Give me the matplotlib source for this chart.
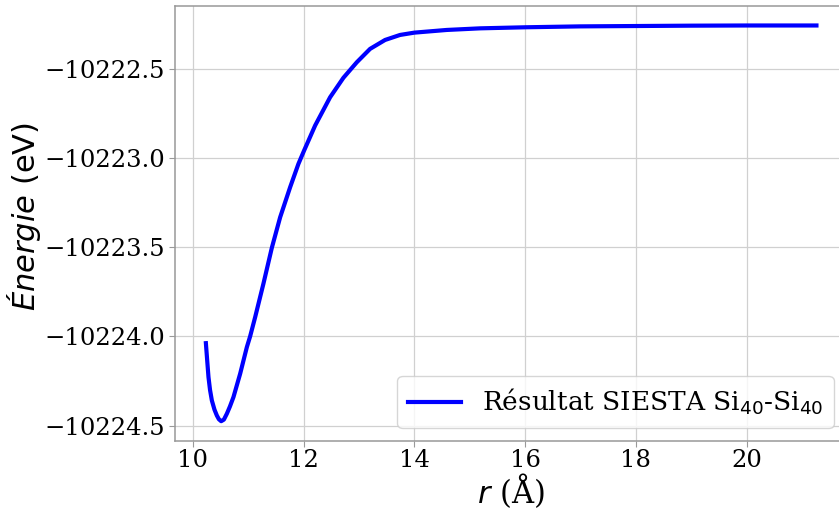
import numpy as np
import matplotlib
matplotlib.use("Agg")
import matplotlib.pyplot as plt

# distance r (Å) and SIESTA total energy (eV)
r = [10.235, 10.26, 10.282, 10.31, 10.343, 10.39, 10.433, 10.47, 10.511, 10.56,
     10.614, 10.67, 10.733, 10.854, 10.975, 11.034, 11.125, 11.274, 11.426,
     11.576, 11.756, 11.906, 12.009, 12.208, 12.478, 12.718, 12.96, 13.20,
     13.471, 13.741, 14.00, 14.585, 15.186, 16.01, 16.99, 18.00, 19.00, 20.00,
     21.26]
energy = [-10224.038, -10224.140, -10224.228, -10224.300, -10224.359, -10224.410,
          -10224.443, -10224.464, -10224.475, -10224.466, -10224.433, -10224.392,
          -10224.340, -10224.209, -10224.060, -10224.000, -10223.892, -10223.705,
          -10223.504, -10223.333, -10223.165, -10223.034, -10222.959, -10222.819,
          -10222.661, -10222.552, -10222.465, -10222.390, -10222.340, -10222.312,
          -10222.299, -10222.284, -10222.275, -10222.269, -10222.264, -10222.262,
          -10222.260, -10222.259, -10222.259]

label_curve = "Résultat SIESTA Si$_{40}$-Si$_{40}$"

plt.rcParams['font.family'] = 'DejaVu Serif'
plt.rcParams['mathtext.fontset'] = 'dejavusans'

fig = plt.figure(figsize=(8.39, 5.09), dpi=100)
ax = fig.add_axes([0.209, 0.1336, 0.8005, 0.8552])

ax.plot(r, energy, color='blue', linewidth=3.0, label=label_curve)

ax.grid(True, color='#d0d0d0', linewidth=0.9)
ax.set_axisbelow(True)
for s in ax.spines.values():
    s.set_color('#999999')
    s.set_linewidth(1.1)
ax.tick_params(axis='both', labelsize=17.5, color='#999999', length=4)
ax.tick_params(axis='x', pad=2)
ax.set_xticks([10, 12, 14, 16, 18, 20])
ax.ticklabel_format(axis='y', useOffset=False)

ax.set_xlabel(r'$r$ (Å)', fontsize=22, labelpad=-1)
ax.set_ylabel(r'$\mathit{Énergie}$ $\mathrm{(eV)}$', fontsize=22)
ax.yaxis.set_label_coords(-0.197, 0.515)

ax.legend(loc='lower right', fontsize=19, handlelength=2.0)

fig.savefig('out.png', dpi=100)
